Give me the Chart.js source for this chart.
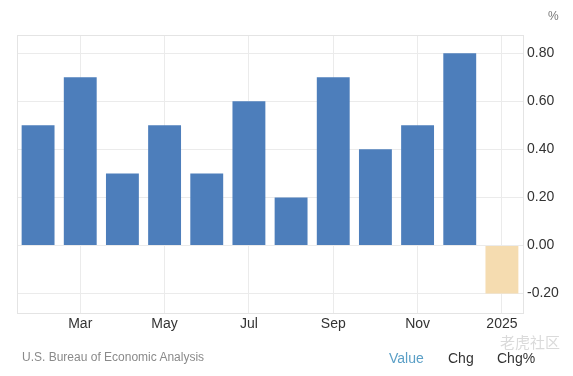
<!DOCTYPE html>
<html>
<head>
<meta charset="utf-8">
<script src="https://cdn.jsdelivr.net/npm/chart.js@4/dist/chart.umd.min.js"></script>
<style>
  html, body { margin: 0; padding: 0; background: #fff; }
  #wrap { position: relative; width: 573px; height: 376px; font-family: "Liberation Sans", Arial, sans-serif; }
  #chart { position: absolute; left: 0; top: 0; }
  .txt { position: absolute; white-space: nowrap; }
</style>
</head>
<body>
<div id="wrap">
  <canvas id="chart" width="573" height="376"></canvas>
  <div class="txt" style="left:548px; top:9px; font-size:12px; color:#777;">%</div>
  <div class="txt" style="left:22px; top:350px; font-size:12px; color:#8a8a8a;">U.S. Bureau of Economic Analysis</div>
  <div class="txt" style="left:389px; top:350px; font-size:14px; color:#5a9fc6;">Value</div>
  <div class="txt" style="left:448px; top:350px; font-size:14px; color:#333;">Chg</div>
  <div class="txt" style="left:497px; top:350px; font-size:14px; color:#333;">Chg%</div>
  <div class="txt" style="left:500px; top:331px; font-size:15px; color:#dadada; font-family:'Noto Sans CJK SC';">老虎社区</div>
</div>
<script>
const months = ['Feb', 'Mar', 'Apr', 'May', 'Jun', 'Jul', 'Aug', 'Sep', 'Oct', 'Nov', 'Dec', '2025'];
const changes = [0.5, 0.7, 0.3, 0.5, 0.3, 0.6, 0.2, 0.7, 0.4, 0.5, 0.8, -0.2];
const yTicks = [-0.2, 0, 0.2, 0.4, 0.6, 0.8];

const blue = '#4d7ebb';
const tan = '#f5dcb0';
const gridColor = '#ebebeb';

// light frame round the plot area
const frame = {
    id: 'frame',
    afterDraw(chart) {
        const a = chart.chartArea;
        const c = chart.ctx;
        c.save();
        c.strokeStyle = '#e4e4e4';
        c.lineWidth = 1;
        c.strokeRect(Math.round(a.left) + 0.5, Math.round(a.top) + 0.5, Math.round(a.right - a.left), Math.round(a.bottom - a.top));
        c.restore();
    }
};

new Chart(document.getElementById('chart').getContext('2d'), {
    type: 'bar',
    data: {
        labels: months,
        datasets: [{
            data: changes,
            backgroundColor: changes.map((v, i) => i === changes.length - 1 ? tan : blue),
            barPercentage: 0.78,
            categoryPercentage: 1
        }]
    },
    options: {
        responsive: false,
        animation: false,
        layout: { padding: { left: 17, top: 35, right: 0, bottom: 38 } },
        plugins: { legend: { display: false }, tooltip: { enabled: false } },
        scales: {
            x: {
                offset: true,
                border: { display: false },
                grid: {
                    offset: false,
                    drawTicks: false,
                    color: ctx => ctx.index % 2 === 1 ? gridColor : 'rgba(0,0,0,0)'
                },
                ticks: {
                    autoSkip: false,
                    maxRotation: 0,
                    padding: 3,
                    color: '#333',
                    font: { family: 'Liberation Sans', size: 14 },
                    callback: function (v, i) { return i % 2 === 1 ? months[i] : ''; }
                },
                afterFit: s => { s.height = 25; }
            },
            y: {
                position: 'right',
                min: -0.281,
                max: 0.876,
                border: { display: false },
                grid: { drawTicks: false, color: gridColor },
                afterBuildTicks: s => { s.ticks = yTicks.map(v => ({ value: v })); },
                ticks: {
                    padding: 4,
                    color: '#333',
                    font: { family: 'Liberation Sans', size: 14 },
                    callback: v => v.toFixed(2)
                },
                afterFit: s => { s.width = 50; }
            }
        }
    },
    plugins: [frame]
});
</script>
</body>
</html>
